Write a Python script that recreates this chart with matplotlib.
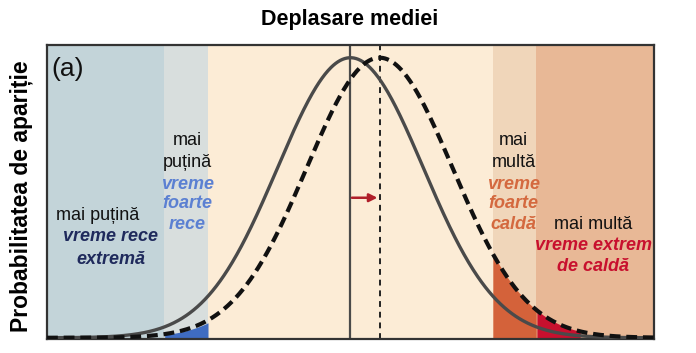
import numpy as np
import matplotlib
matplotlib.use('Agg')
import matplotlib.pyplot as plt

plt.rcParams['font.family'] = ['Liberation Sans', 'DejaVu Sans']

# distribution parameters (units of one standard deviation)
mean_now = 0.0
mean_shifted = 0.4
spread = 1.0

# category thresholds
edges = [-4.16, -2.55, -1.95, 1.95, 2.55, 4.16]
band_colors = ['#c3d4d9', '#d8dedd', '#fcecd6', '#f0d6ba', '#e8b896']

title = 'Deplasare mediei'
ylabel = 'Probabilitatea de apariție'


def bell(x, mu, s):
  return np.exp(-0.5 * ((x - mu) / s) ** 2)


x = np.linspace(edges[0], edges[-1], 800)
y_now = bell(x, mean_now, spread)
y_new = bell(x, mean_shifted, spread)

fig = plt.figure(figsize=(6.96, 3.53), dpi=100)
ax = fig.add_axes([0.0675, 0.040, 0.872, 0.833])

for i, c in enumerate(band_colors):
  ax.axvspan(edges[i], edges[i + 1], color=c, lw=0, zorder=0)

# tail fills under the shifted curve
m = (x >= edges[1]) & (x <= edges[2])
ax.fill_between(x[m], 0, y_new[m] * 0.85, color='#3f6cc2', lw=0, zorder=1)
m = (x >= edges[3]) & (x <= edges[4])
ax.fill_between(x[m], 0, y_new[m], color='#d4623a', lw=0, zorder=1)
m = (x >= edges[4]) & (x <= edges[4] + 0.6)
ax.fill_between(x[m], 0, y_new[m], color='#c8102e', lw=0, zorder=1)

ax.axvline(mean_now, color='#4a4a4a', lw=1.6, zorder=2)
ax.axvline(mean_shifted, color='#222222', lw=1.4, ls=(0, (3, 2.5)), zorder=2)

ax.plot(x, y_now, color='#4a4a4a', lw=2.4, zorder=3, solid_capstyle='butt')
ax.plot(x, y_new, color='#111111', lw=3.0, ls=(0, (2.6, 1.4)), zorder=4)

ax.annotate('', xy=(mean_shifted - 0.03, 0.50), xytext=(mean_now + 0.02, 0.50),
            arrowprops=dict(arrowstyle='-|>', color='#b01f2a', lw=1.8,
                            mutation_scale=12, shrinkA=0, shrinkB=0), zorder=5)

ax.set_xlim(edges[0], edges[-1])
ax.set_ylim(-0.004, 1.046)
ax.set_xticks([])
ax.set_yticks([])
for sp in ax.spines.values():
  sp.set_color('#333333')
  sp.set_linewidth(1.6)

fs = 13
navy = '#1f2a5c'
lblue = '#5b80d2'
orange = '#d4693f'
red = '#c8102e'

ax.text(-4.16 + 0.06, 0.958, '(a)', fontsize=19, va='center', ha='left', color='#111111')

# far left
ax.text(-3.46, 0.435, 'mai puțină', fontsize=fs, ha='center', va='center', color='#111111')
ax.text(-3.29, 0.36, 'vreme rece', fontsize=fs, ha='center', va='center', color=navy,
        fontweight='bold', style='italic')
ax.text(-3.29, 0.28, 'extremă', fontsize=fs, ha='center', va='center', color=navy,
        fontweight='bold', style='italic')

# cold side
ax.text(-2.24, 0.705, 'mai', fontsize=fs, ha='center', va='center', color='#111111')
ax.text(-2.24, 0.627, 'puțină', fontsize=fs, ha='center', va='center', color='#111111')
for yy, t in zip([0.548, 0.478, 0.404], ['vreme', 'foarte', 'rece']):
  ax.text(-2.24, yy, t, fontsize=fs, ha='center', va='center', color=lblue,
          fontweight='bold', style='italic')

# warm side
ax.text(2.24, 0.705, 'mai', fontsize=fs, ha='center', va='center', color='#111111')
ax.text(2.24, 0.627, 'multă', fontsize=fs, ha='center', va='center', color='#111111')
for yy, t in zip([0.548, 0.478, 0.404], ['vreme', 'foarte', 'caldă']):
  ax.text(2.24, yy, t, fontsize=fs, ha='center', va='center', color=orange,
          fontweight='bold', style='italic')

# far right
ax.text(3.33, 0.404, 'mai multă', fontsize=fs, ha='center', va='center', color='#111111')
ax.text(3.33, 0.33, 'vreme extrem', fontsize=fs, ha='center', va='center', color=red,
        fontweight='bold', style='italic')
ax.text(3.33, 0.255, 'de caldă', fontsize=fs, ha='center', va='center', color=red,
        fontweight='bold', style='italic')

fig.text(0.502, 0.946, title, fontsize=15.5, fontweight='bold', ha='center', va='center')
fig.text(0.031, 0.445, ylabel, fontsize=16.5, fontweight='bold', ha='center', va='center',
         rotation=90)

fig.savefig('out.png', dpi=100)
